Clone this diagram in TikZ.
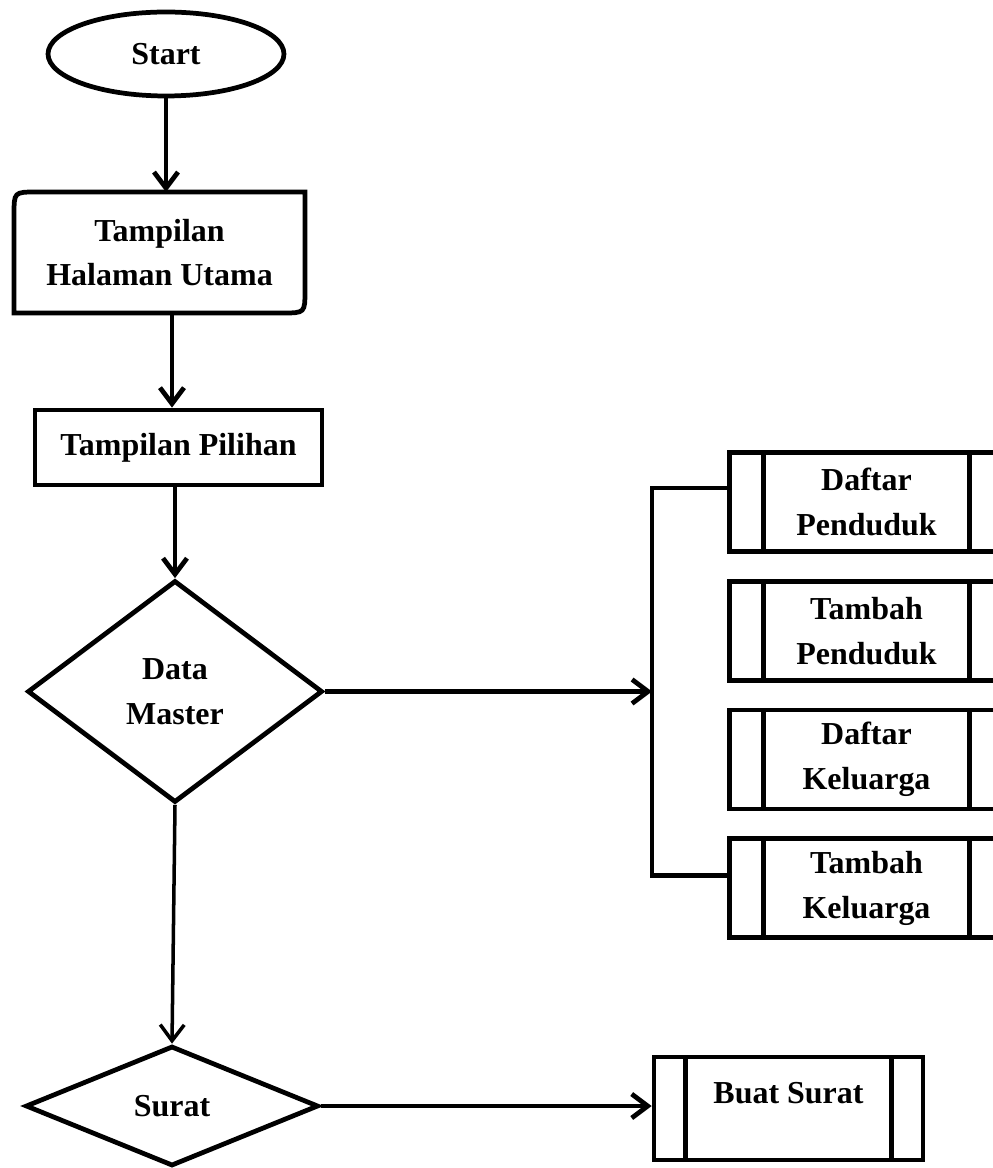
\documentclass[tikz,border=0pt]{standalone}
\usepackage{fontspec}
\setmainfont{Liberation Serif}
\usetikzlibrary{
positioning,
shapes.geometric,
arrows.meta,
}
\tikzset{
node distance=0.5cm,
outer sep=auto,
every node/.style={align=center, font=\fontsize{18.2}{25.5}\selectfont\bfseries},
heavy/.style={line width=2.7pt},
terminal/.style={ellipse, draw, heavy, inner sep=0pt, minimum width=4.72cm, minimum height=1.68cm},
display/.style={rectangle, outer sep=0pt, minimum width=5.82cm, minimum height=2.42cm},
process/.style={rectangle, draw, heavy, minimum width=5.74cm, minimum height=1.5cm},
decision/.style={diamond, draw, heavy, inner sep=0pt},
subprocess/.style={rectangle, draw, heavy, minimum width=5.48cm, minimum height=1.98cm,
  path picture={
    \draw[heavy] ([xshift=#1]path picture bounding box.north west) -- ([xshift=#1]path picture bounding box.south west);
    \draw[heavy] ([xshift=-#1]path picture bounding box.north east) -- ([xshift=-#1]path picture bounding box.south east);
  }},
>={Straight Barb[length=0.32cm, width=0.48cm]},
}

\begin{document}
\begin{tikzpicture}[x=0.02cm, y=-0.02cm]
\useasboundingbox (0,0) rectangle (992,1168);
% left column
\node (start) [terminal] at (166,54) {Start};
\node (home) [display] at (159.5,252.5) {Tampilan\\Halaman Utama};
\draw[heavy] ([yshift=-0.45cm]home.north west) .. controls (home.north west) .. ([xshift=0.45cm]home.north west)
    -- (home.north east) -- ([yshift=0.45cm]home.south east) .. controls (home.south east) .. ([xshift=-0.45cm]home.south east)
    -- (home.south west) -- cycle;
\node (menu) [process] at (178.5,447.5) {Tampilan Pilihan};
\node (master) [decision, minimum width=5.9cm, minimum height=4.44cm] at (175,691.5) {Data\\Master};
\node (surat) [decision, minimum width=5.86cm, minimum height=2.4cm] at (172,1106) {Surat};
% right column
\node (dafpend) [subprocess=0.68cm] at (866.5,502) {Daftar\\Penduduk};
\node (tampend) [subprocess=0.68cm, below=of dafpend] {Tambah\\Penduduk};
\node (dafkel) [subprocess=0.68cm, below=of tampend] {Daftar\\Keluarga};
\node (tamkel) [subprocess=0.68cm, below=of dafkel] {Tambah\\Keluarga};
\node (buat) [subprocess=0.63cm, minimum width=5.38cm, minimum height=2.06cm, text depth=0.62cm] at (788.5,1108.5) {Buat Surat};
\coordinate (hub) at (652,691.5);
% connectors
\draw[heavy, ->] (start.south) -- (start.south |- home.north);
\draw[heavy, ->] ([xshift=0.25cm]home.south) -- ([xshift=0.25cm]home.south |- menu.north);
\draw[heavy, ->] (master.north |- menu.south) -- (master.north);
\draw[heavy, ->] (master.east) -- (hub);
\draw[heavy] ([yshift=0.28cm]dafpend.west) -| (hub) |- ([yshift=0.26cm]tamkel.west);
\draw[line width=2pt, ->] (master.south) -- (surat.north);
\draw[heavy, ->] (surat.east) -- (surat.east -| buat.west);
\end{tikzpicture}
\end{document}
